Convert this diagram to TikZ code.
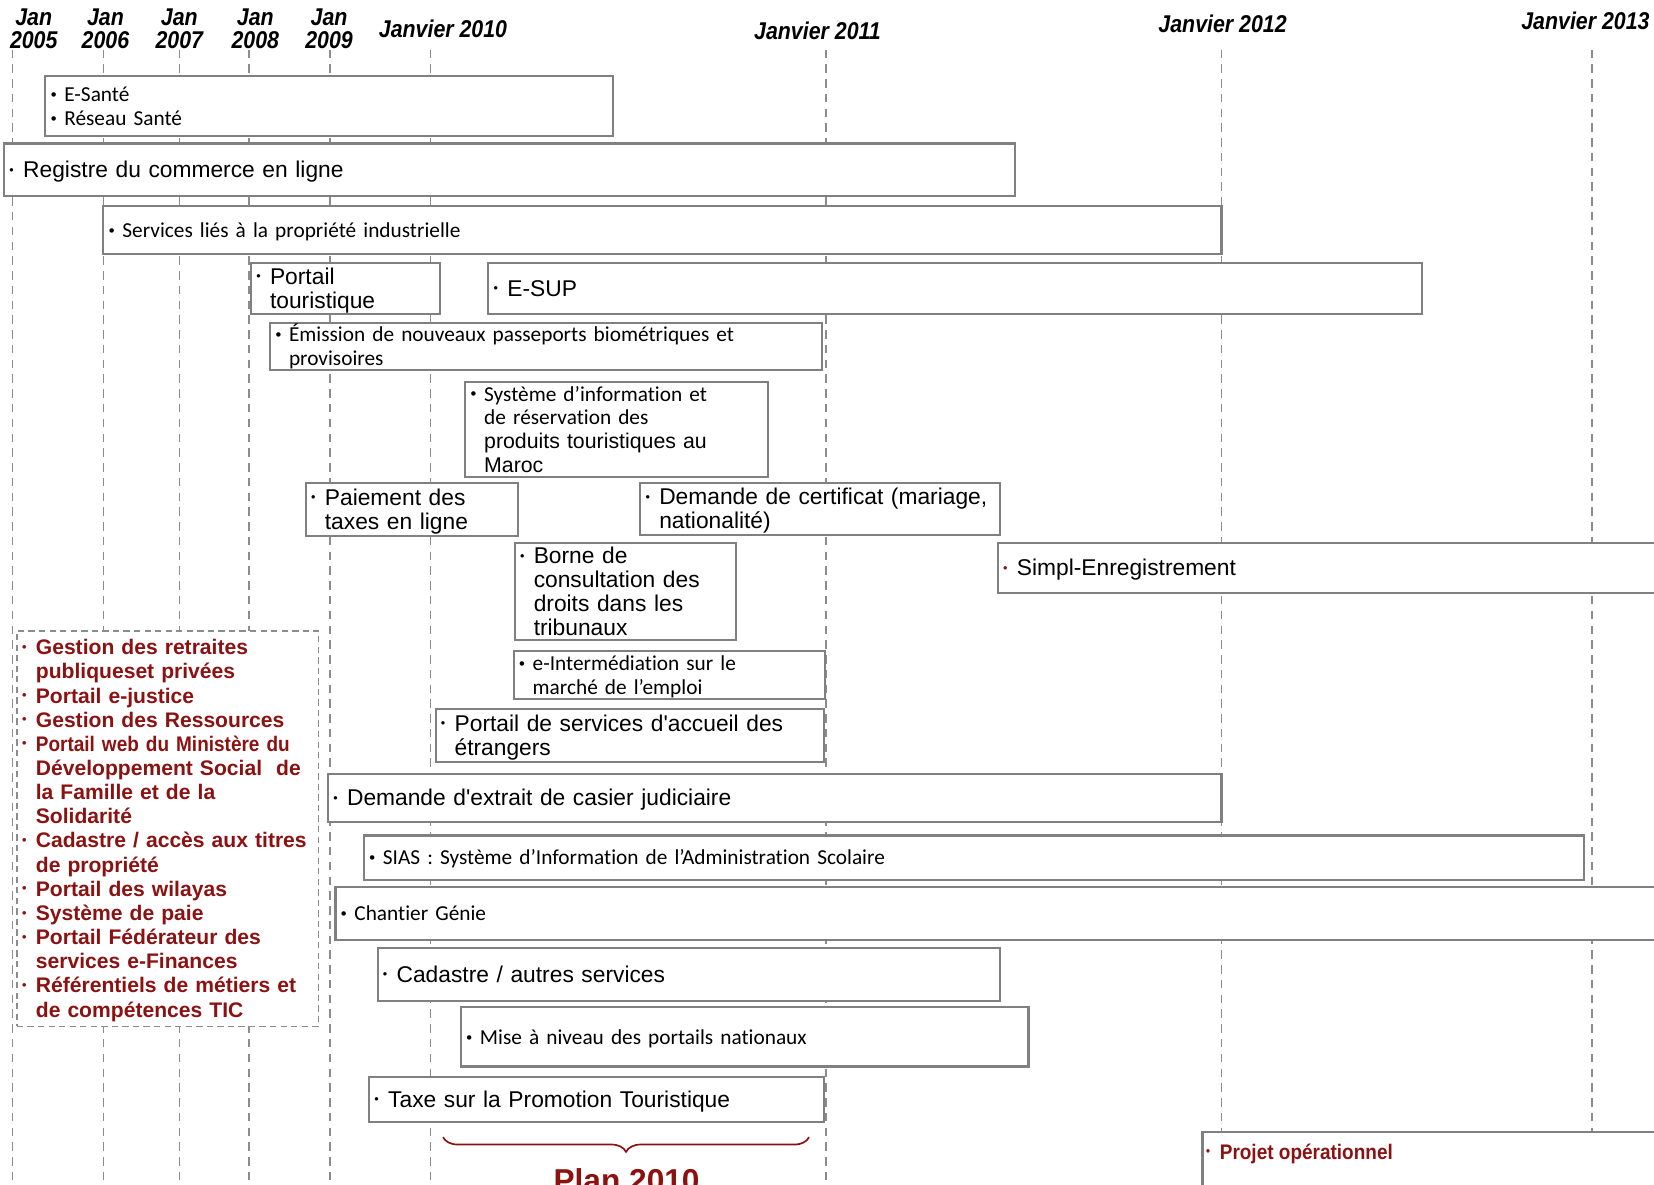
\documentclass[tikz,border=0pt]{standalone}
\usepackage{fontspec}
\setmainfont{Liberation Sans}
\newfontfamily\myriad[Ligatures=NoCommon]{Carlito}
\newfontfamily\entete[FakeStretch=0.88]{Liberation Sans}
\newfontfamily\etroit[FakeStretch=0.9]{Liberation Sans}
\usepackage{xcolor}
\usetikzlibrary{decorations.pathreplacing}
\definecolor{grisbord}{RGB}{128,128,128}
\definecolor{gristiret}{RGB}{140,140,140}
\definecolor{rougefonce}{RGB}{140,18,18}
\newcommand{\puce}[2][black]{\let\\\newline\hangindent=6.5pt\hangafter=1\noindent
  \vrule height 0.9em depth 0pt width 0pt%
  \makebox[6.5pt][l]{\raisebox{0.3ex}{\textcolor{#1}{\fontsize{6}{6}\selectfont\textbullet}}}#2%
  \vrule height 0pt depth 0.21em width 0pt\par}
\tikzset{
  boite/.style 2 args={draw=grisbord, line width=1pt, fill=white, anchor=north west,
    inner xsep=2.5pt, inner ysep=0pt, outer sep=0pt, minimum height=#2*0.5pt,
    text width=#1*0.5pt-5pt, align=left, font=\fontsize{10.8}{11.3}\selectfont},
  boitem/.style 2 args={boite={#1}{#2}, font=\myriad\fontsize{10.1}{11.3}\selectfont},
  liste/.style 2 args={boite={#1}{#2}, draw=gristiret, line width=0.8pt, dash pattern=on 3pt off 2pt,
    text=rougefonce, font=\bfseries\fontsize{10}{11.45}\selectfont},
  annee/.style={font=\entete\bfseries\itshape\fontsize{11.5}{11}\selectfont, align=center, inner sep=0pt},
  tiret/.style={draw=gristiret, line width=0.7pt, dash pattern=on 4pt off 3pt},
  accolade/.style={draw=rougefonce, line width=0.8pt, decorate, decoration={brace, mirror, amplitude=7pt}},
}
\begin{document}
\begin{tikzpicture}[x=0.5pt, y=-0.5pt]
\useasboundingbox (0,0) rectangle (1568,1123);
\fill[white] (0,0) rectangle (1568,1123);

% dates
\foreach \x/\a in {32/2005,100/2006,170/2007,242/2008,312/2009}
  \node[annee] (j\a) at (\x,27) {Jan\\\a};
\node[annee] (j2010) at (420,27) {Janvier 2010};
\node[annee] (j2011) at (775,29) {Janvier 2011};
\node[annee] (j2012) at (1159,23) {Janvier 2012};
\node[annee] (j2013) at (1503,20) {Janvier 2013};
\foreach \x in {12,98,170,236,313,408,783,1158,1509}
  \draw[tiret] (\x,47) -- (\x,1123);

% projets
\node[boitem={538}{57}] (esante) at (43,72) {\puce{E-Santé}\puce{Réseau Santé}};
\node[boite={958}{50}] (registre) at (4,136) {\puce{Registre du commerce en ligne}};
\node[boitem={1060}{46}] (propind) at (98,195) {\puce{Services liés à la propriété industrielle}};
\node[boite={179}{49}] (portailtour) at (238,249) {\puce{Portail\\touristique}};
\node[boite={885}{49}] (esup) at (463,249) {\puce{E-SUP}};
\node[boitem={523}{44}] (passeports) at (256,306) {\puce{Émission de nouveaux passeports biométriques et\\provisoires}};
\node[boitem={287}{85}] (sysinfo) at (441,362) {\puce{Système d’information et\\de réservation des\\{\rmfamily produits touristiques au}\\{\rmfamily Maroc}}};
\node[boite={201}{50}] (paiement) at (290,458) {\puce{Paiement des\\taxes en ligne}};
\node[boite={341}{49}] (certificat) at (607,458) {\puce{Demande de certificat (mariage,\\nationalité)}};
\node[boite={210}{90}] (borne) at (488,515) {\puce{Borne de\\consultation des\\droits dans les\\tribunaux}};
\node[boite={654}{47}] (simpl) at (946,515) {\puce[rougefonce]{Simpl-Enregistrement}};
\node[liste={286}{375}] (liste) at (16,598) {%
  \puce[rougefonce]{Gestion des retraites\\publiqueset privées}
  \puce[rougefonce]{Portail e-justice}
  \puce[rougefonce]{Gestion des Ressources}
  \puce[rougefonce]{{\etroit Portail web du Ministère du}\\Développement Social~ de\\la Famille et de la\\Solidarité}
  \puce[rougefonce]{Cadastre / accès aux titres\\de propriété}
  \puce[rougefonce]{Portail des wilayas}
  \puce[rougefonce]{Système de paie}
  \puce[rougefonce]{Portail Fédérateur des\\services e-Finances}
  \puce[rougefonce]{Référentiels de métiers et\\de compétences TIC}};
\node[boitem={295}{46}] (intermed) at (487,617) {\puce{e-Intermédiation sur le\\marché de l’emploi}};
\node[boite={368}{50}] (accueil) at (413,672) {\puce{Portail de services d\textquotesingle accueil des\\étrangers}};
\node[boite={847}{45}] (casier) at (311,734) {\puce{Demande d\textquotesingle extrait de casier judiciaire}};
\node[boitem={1157}{42}] (sias) at (345,792) {\puce{SIAS : Système d’Information de l’Administration Scolaire}};
\node[boitem={1282}{50}] (genie) at (318,841) {\puce{Chantier Génie}};
\node[boite={590}{50}] (cadastre) at (358,899) {\puce{Cadastre / autres services}};
\node[boitem={538}{56}] (miseniveau) at (437,955) {\puce{Mise à niveau des portails nationaux}};
\node[boite={431}{43}] (taxe) at (350,1021) {\puce{Taxe sur la Promotion Touristique}};

% plan 2010
\coordinate (acg) at (420,1078);
\coordinate (acd) at (767,1078);
\draw[accolade] (acg) -- (acd);
\node[font=\bfseries\fontsize{15}{15}\selectfont, text=rougefonce, anchor=base, inner sep=0pt] (plan) at (594,1130) {Plan 2010};

% projet operationnel
\fill[white] (1140,1073) rectangle (1600,1140);
\draw[draw=grisbord, line width=1pt] (1140,1140) |- (1600,1073);
\node[font=\etroit\bfseries\fontsize{10}{12}\selectfont, text=rougefonce, anchor=west, inner sep=0pt] (projet) at (1143,1092) {\puce[rougefonce]{Projet opérationnel}};
\end{tikzpicture}
\end{document}
